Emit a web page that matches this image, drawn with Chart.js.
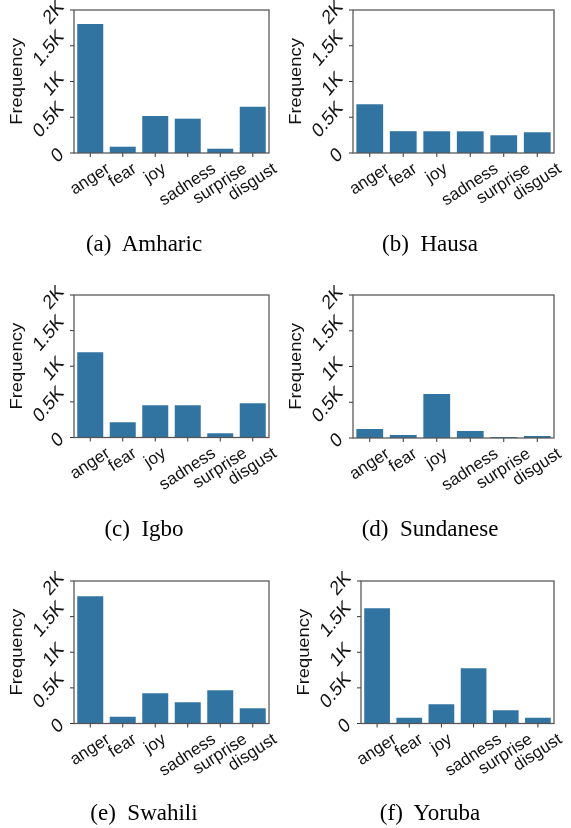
<!DOCTYPE html>
<html>
<head>
<meta charset="utf-8">
<script src="https://cdn.jsdelivr.net/npm/chart.js@4.4.0/dist/chart.umd.min.js"></script>
<style>
  body { margin: 0; background: #fff; width: 571px; height: 828px; position: relative; overflow: hidden; }
  canvas { position: absolute; }
  .cap { position: absolute; font-family: "Liberation Serif", "Times New Roman", serif; font-size: 23px;
         line-height: 23px; color: #000; white-space: pre; transform: translateX(-50%); }
</style>
</head>
<body>
<script>
// emotion frequencies per language
const categories = ['anger', 'fear', 'joy', 'sadness', 'surprise', 'disgust'];
const amharic   = [1804, 88, 517, 480, 60, 648];
const hausa     = [682, 305, 304, 303, 248, 290];
const igbo      = [1196, 215, 453, 453, 61, 481];
const sundanese = [126, 42, 614, 98, 14, 28];
const swahili   = [1785, 93, 425, 299, 467, 215];
const yoruba    = [1617, 79, 271, 776, 187, 79];

const yTickValues = [0, 500, 1000, 1500, 2000];
const yTickLabels = ['0', '0.5K', '1K', '1.5K', '2K'];
const captions = ['(a)  Amharic', '(b)  Hausa', '(c)  Igbo', '(d)  Sundanese', '(e)  Swahili', '(f)  Yoruba'];

const BAR = '#3274a1';
const FONT = '"Liberation Sans", Arial, sans-serif';
const CANVAS_H = 240;

// where each subplot sits on the page
const panels = [
  { data: amharic,   x: 0,   y: 0,   w: 285, L: 74,  T: 10,  R: 269, B: 153,   capX: 144, capY: 251 },
  { data: hausa,     x: 285, y: 0,   w: 286, L: 353, T: 10,  R: 554, B: 153,   capX: 430, capY: 251 },
  { data: igbo,      x: 0,   y: 285, w: 285, L: 74,  T: 295, R: 269, B: 437.5, capX: 144, capY: 536 },
  { data: sundanese, x: 285, y: 285, w: 286, L: 353, T: 295, R: 554, B: 438,   capX: 430, capY: 536 },
  { data: swahili,   x: 0,   y: 571, w: 285, L: 74,  T: 581, R: 269, B: 723.5, capX: 144, capY: 820 },
  { data: yoruba,    x: 285, y: 571, w: 286, L: 361, T: 581, R: 554, B: 723.5, capX: 430, capY: 820 }
];

// matplotlib-like rotated text: align the rotated (and vertically stretched) box to the anchor
function placeText(ctx, text, ax, ay, deg, size, ha, va, k) {
  ctx.font = size + 'px ' + FONT;
  const w = ctx.measureText(text).width;
  const a = 0.73 * size, d = 0.21 * size;
  const t = deg * Math.PI / 180, c = Math.cos(t), s = Math.sin(t);
  const pts = [[0, -a], [w, -a], [0, d], [w, d]].map(([x, y]) => [x * c + y * s, k * (-x * s + y * c)]);
  const xs = pts.map(p => p[0]), ys = pts.map(p => p[1]);
  const minX = Math.min(...xs), maxX = Math.max(...xs);
  const minY = Math.min(...ys), maxY = Math.max(...ys);
  const ox = ha === 'right' ? ax - maxX : ha === 'center' ? ax - (minX + maxX) / 2 : ax - minX;
  const oy = va === 'top' ? ay - minY : ay - (minY + maxY) / 2;
  ctx.save();
  ctx.translate(ox, oy);
  ctx.scale(1, k);
  ctx.rotate(-t);
  ctx.textAlign = 'left';
  ctx.textBaseline = 'alphabetic';
  ctx.fillText(text, 0, 0);
  ctx.restore();
}

const mplAxes = {
  id: 'mplAxes',
  afterDatasetsDraw(chart) {
    const { ctx, chartArea: { left, right, top, bottom }, scales: { x, y } } = chart;
    ctx.save();
    ctx.fillStyle = '#111';
    ctx.strokeStyle = '#333';
    ctx.lineWidth = 1;

    yTickValues.forEach((v, i) => {
      const py = y.getPixelForValue(v);
      ctx.beginPath();
      ctx.moveTo(left - 4, py);
      ctx.lineTo(left, py);
      ctx.stroke();
      placeText(ctx, yTickLabels[i], left - 7, py + 3, 45, 17, 'right', 'center', 1.2);
    });

    categories.forEach((cat, i) => {
      const px = x.getPixelForValue(i);
      ctx.beginPath();
      ctx.moveTo(px, bottom);
      ctx.lineTo(px, bottom + 4);
      ctx.stroke();
      placeText(ctx, cat, px, bottom + 8, 33, 17, 'center', 'top', 1);
    });

    ctx.strokeStyle = '#555';
    ctx.lineWidth = 1.25;
    ctx.strokeRect(left, top, right - left, bottom - top);

    // y axis title, tall and narrow like the reference
    ctx.save();
    ctx.translate(left - 56, (top + bottom) / 2);
    ctx.scale(1, 1.16);
    ctx.rotate(-Math.PI / 2);
    ctx.font = '15.8px ' + FONT;
    ctx.textAlign = 'center';
    ctx.textBaseline = 'alphabetic';
    ctx.fillText('Frequency', 0, 0.253 * 15.8);
    ctx.restore();

    ctx.restore();
  }
};

panels.forEach((p, i) => {
  const cv = document.createElement('canvas');
  cv.width = p.w;
  cv.height = CANVAS_H;
  cv.style.left = p.x + 'px';
  cv.style.top = p.y + 'px';
  document.body.appendChild(cv);

  new Chart(cv, {
    type: 'bar',
    data: {
      labels: categories,
      datasets: [{
        data: p.data,
        backgroundColor: BAR,
        barPercentage: 0.8,
        categoryPercentage: 1.0
      }]
    },
    options: {
      responsive: false,
      animation: false,
      events: [],
      layout: {
        padding: {
          left: p.L - p.x,
          top: p.T - p.y,
          right: p.x + p.w - p.R,
          bottom: p.y + CANVAS_H - p.B
        }
      },
      plugins: { legend: { display: false }, tooltip: { enabled: false } },
      scales: {
        x: { display: false },
        y: { display: false, min: 0, max: 2000 }
      }
    },
    plugins: [mplAxes]
  });

  const cap = document.createElement('div');
  cap.className = 'cap';
  cap.textContent = captions[i];
  cap.style.left = p.capX + 'px';
  cap.style.top = (p.capY - 19) + 'px';
  document.body.appendChild(cap);
});
</script>
</body>
</html>
